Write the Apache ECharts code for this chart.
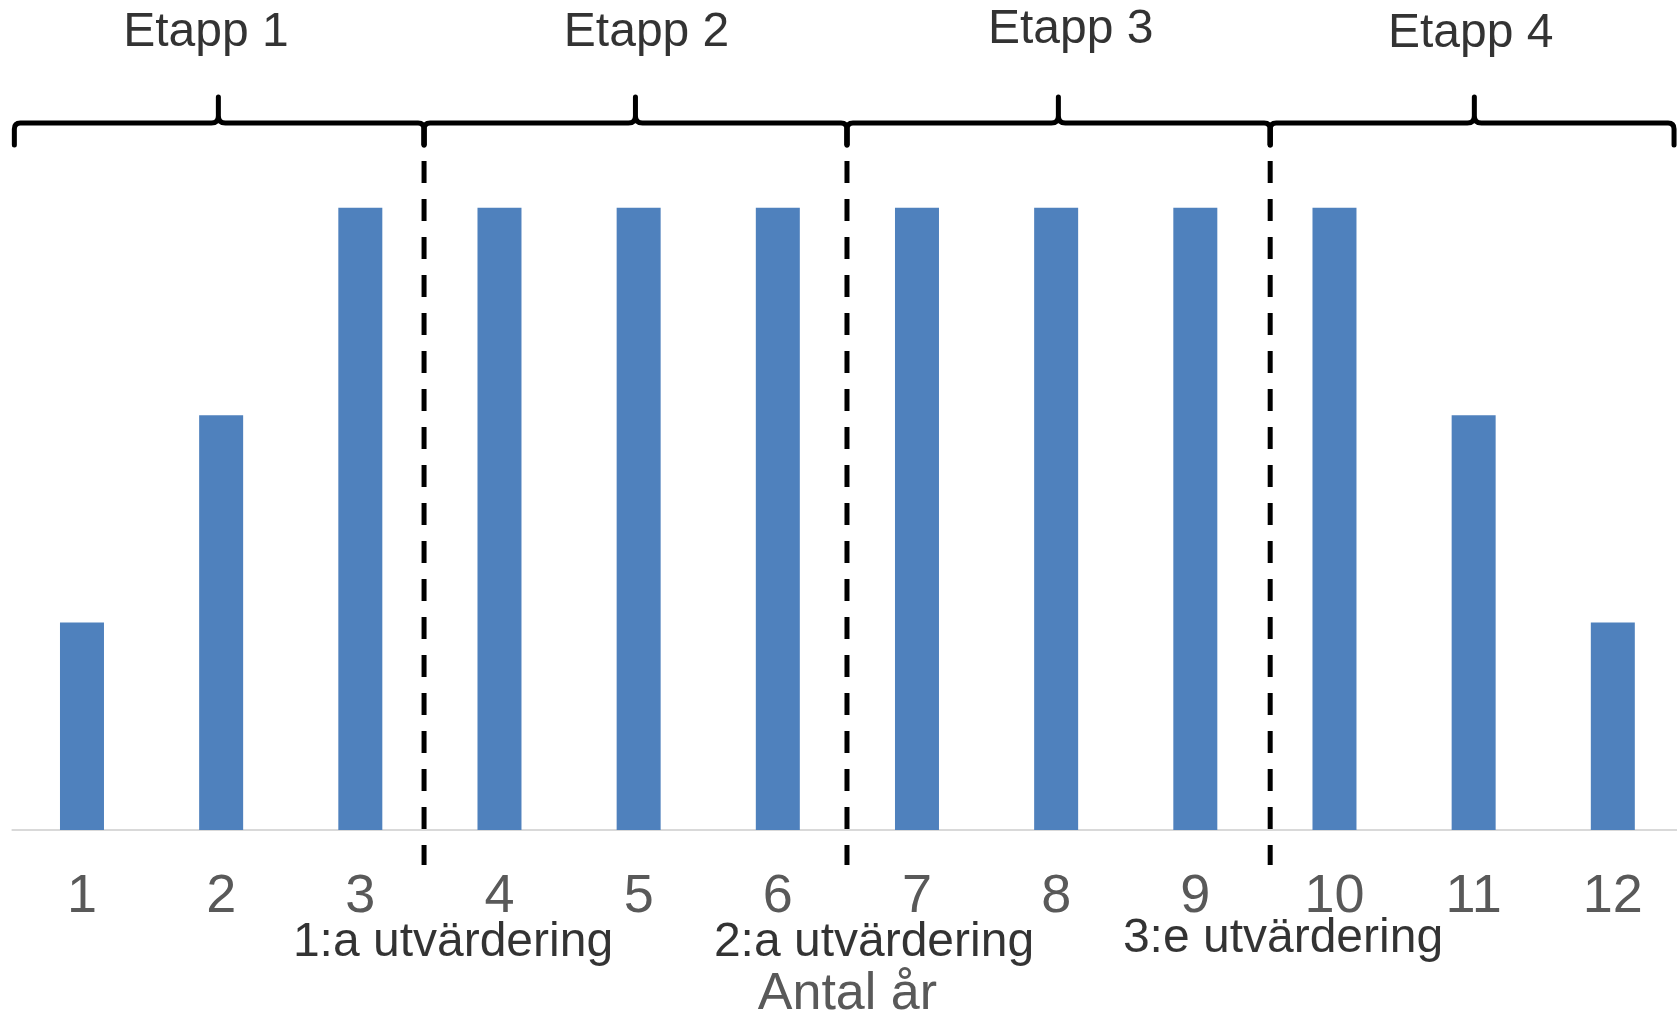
<!DOCTYPE html>
<html>
<head>
<meta charset="utf-8">
<script src="https://cdn.jsdelivr.net/npm/echarts@6/dist/echarts.min.js"></script>
<style>
html,body{margin:0;padding:0;background:#fff;}
#chart{width:1677px;height:1014px;}
</style>
</head>
<body>
<div id="chart"></div>
<script>
// ---- data ----
const years = ['1','2','3','4','5','6','7','8','9','10','11','12'];
const values = [1, 2, 3, 3, 3, 3, 3, 3, 3, 3, 2, 1];

const stageNames = ['Etapp 1', 'Etapp 2', 'Etapp 3', 'Etapp 4'];
const stageStart = [0.514, 3.458, 6.497, 9.538];
const stageTip   = [1.98, 4.977, 8.016, 11.005];
const stageEnd   = [3.458, 6.497, 9.538, 12.44];
const stageLabelX = [1.891, 5.057, 8.104, 10.979];
const stageLabelY = [3.845, 3.845, 3.857, 3.84];
const braceLevel = 3.408;
const braceTipTop = 3.534;
const braceEndBottom = 3.302;

const evalNames = ['1:a utvärdering', '2:a utvärdering', '3:e utvärdering'];
const evalX = [3.458, 6.497, 9.538];
const evalLabelX = [3.666, 6.691, 9.630];
const evalLabelY = [-0.542, -0.542, -0.522];
const dashTop = 3.408;
const dashBottom = -0.169;

const FONT = '"Liberation Sans", Arial, sans-serif';

const chart = echarts.init(document.getElementById('chart'), null, {renderer: 'canvas'});

const braceSeries = {
  type: 'custom',
  xAxisIndex: 1,
  yAxisIndex: 0,
  clip: false,
  silent: true,
  z: 4,
  data: stageNames.map((n, i) => [stageStart[i], stageTip[i], stageEnd[i]]),
  renderItem: function (params, api) {
    const X0 = api.coord([api.value(0), 0])[0];
    const XT = api.coord([api.value(1), 0])[0];
    const X1 = api.coord([api.value(2), 0])[0];
    const yL = api.coord([0, braceLevel])[1];
    const yT = api.coord([0, braceTipTop])[1];
    const yE = api.coord([0, braceEndBottom])[1];
    const r = 6, w = 7;
    const d = 'M' + X0 + ',' + yE + ' L' + X0 + ',' + (yL + r) +
      ' Q' + X0 + ',' + yL + ' ' + (X0 + r) + ',' + yL +
      ' L' + (XT - w) + ',' + yL +
      ' Q' + XT + ',' + yL + ' ' + XT + ',' + (yL - w) +
      ' L' + XT + ',' + yT +
      ' M' + XT + ',' + (yL - w) +
      ' Q' + XT + ',' + yL + ' ' + (XT + w) + ',' + yL +
      ' L' + (X1 - r) + ',' + yL +
      ' Q' + X1 + ',' + yL + ' ' + X1 + ',' + (yL + r) +
      ' L' + X1 + ',' + yE;
    return {
      type: 'path',
      shape: {pathData: d},
      style: {fill: null, stroke: '#000', lineWidth: 5, lineCap: 'round', lineJoin: 'round'}
    };
  }
};

const dashSeries = evalX.map(x => ({
  type: 'line',
  xAxisIndex: 1,
  yAxisIndex: 0,
  data: [[x, dashTop], [x, dashBottom]],
  symbol: 'none',
  clip: false,
  silent: true,
  z: 3,
  lineStyle: {color: '#000', width: 5, type: [22, 16], cap: 'butt'}
}));

function labelSeries(names, xs, ys, size, color) {
  return {
    type: 'scatter',
    xAxisIndex: 1,
    yAxisIndex: 0,
    clip: false,
    silent: true,
    symbolSize: 1,
    itemStyle: {color: 'rgba(0,0,0,0)'},
    z: 5,
    data: names.map((n, i) => ({name: n, value: [xs[i], ys[i]]})),
    label: {
      show: true,
      position: 'inside',
      formatter: '{b}',
      fontSize: size,
      color: color,
      fontFamily: FONT,
      align: 'center',
      verticalAlign: 'middle'
    },
    emphasis: {disabled: true}
  };
}

const option = {
  animation: false,
  backgroundColor: '#fff',
  grid: {left: 12.4, top: 207.7, width: 1670, height: 622.3, containLabel: false, outerBoundsMode: 'none'},
  xAxis: [
    {
      type: 'category',
      data: years,
      position: 'bottom',
      axisTick: {show: false},
      axisLine: {show: true, lineStyle: {color: '#d9d9d9', width: 2}},
      axisLabel: {interval: 0, margin: 40, fontSize: 54, color: '#595959', fontFamily: FONT},
      name: 'Antal år',
      nameLocation: 'middle',
      nameGap: 139,
      nameMoveOverlap: false,
      nameTextStyle: {fontSize: 52, color: '#595959', fontFamily: FONT},
      splitLine: {show: false}
    },
    {
      type: 'value',
      min: 0.5,
      max: 12.5,
      show: false,
      position: 'top',
      splitLine: {show: false}
    }
  ],
  yAxis: [{
    type: 'value',
    min: 0,
    max: 3,
    show: false,
    splitLine: {show: false}
  }],
  series: [
    {
      type: 'bar',
      xAxisIndex: 0,
      yAxisIndex: 0,
      data: values,
      barWidth: 44,
      itemStyle: {color: '#4F81BD'},
      silent: true,
      z: 2
    },
    braceSeries,
    ...dashSeries,
    labelSeries(stageNames, stageLabelX, stageLabelY, 48, '#000'),
    labelSeries(evalNames, evalLabelX, evalLabelY, 48, '#000')
  ]
};

chart.setOption(option);
</script>
</body>
</html>
